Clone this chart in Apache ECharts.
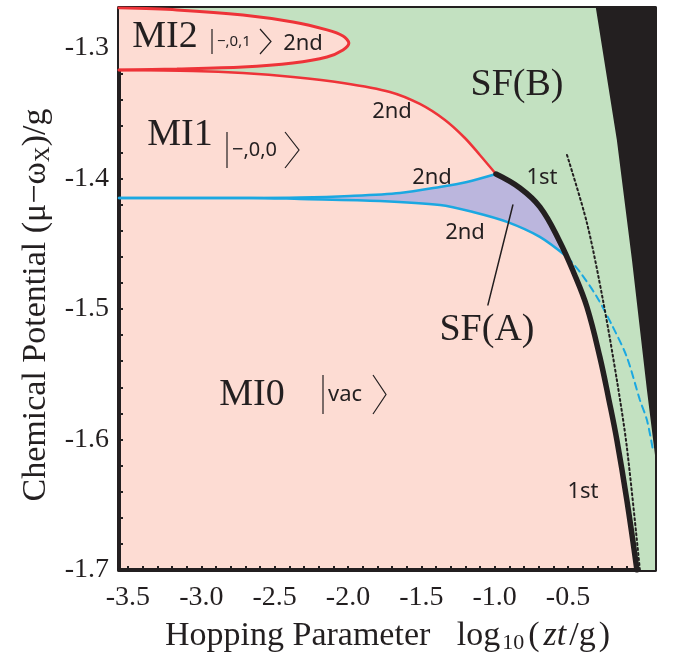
<!DOCTYPE html>
<html>
<head>
<meta charset="utf-8">
<script src="https://cdn.jsdelivr.net/npm/echarts@6/dist/echarts.min.js"></script>
<style>
  html, body { margin: 0; padding: 0; background: #ffffff; }
  #chart { width: 683px; height: 665px; }
</style>
</head>
<body>
<div id="chart"></div>
<script>
// Phase diagram: chemical potential vs. log10 hopping parameter

const xRange = [-3.561, 0.093];
const yRange = [-1.7, -1.2694];

const xLabels = [-3.5, -3.0, -2.5, -2.0, -1.5, -1.0, -0.5];
const yLabels = [-1.7, -1.6, -1.5, -1.4, -1.3];

// MI2 lobe (closed red boundary), upper branch then lower branch
const mi2Lobe = [
  [-3.561, -1.2693], [-3.166, -1.2709], [-2.716, -1.2747], [-2.375, -1.2801],
  [-2.143, -1.2862], [-2.034, -1.2908], [-1.994, -1.2962],
  [-2.034, -1.3015], [-2.143, -1.3069], [-2.375, -1.3115], [-2.716, -1.3146],
  [-3.166, -1.3161], [-3.561, -1.3169]
];

// Upper boundary of MI1 (2nd order)
const mi1Upper = [
  [-3.561, -1.3169], [-3.057, -1.3176], [-2.716, -1.3192], [-2.375, -1.3222],
  [-2.034, -1.3268], [-1.714, -1.3337], [-1.510, -1.3429], [-1.339, -1.3552],
  [-1.203, -1.3690], [-1.101, -1.3820], [-0.991, -1.3966]
];

// MI1 / SF(A) boundary (upper blue)
const blueUpper = [
  [-3.561, -1.4149], [-2.668, -1.4149], [-2.328, -1.4146], [-1.987, -1.4134],
  [-1.646, -1.4111], [-1.373, -1.4065], [-1.189, -1.4027], [-0.991, -1.3966]
];

// SF(A) / MI0 boundary (lower blue)
const blueLower = [
  [-3.561, -1.4149], [-2.668, -1.4149], [-2.328, -1.4157], [-1.782, -1.4172],
  [-1.373, -1.4203], [-1.148, -1.4257], [-0.916, -1.4333], [-0.692, -1.4448],
  [-0.505, -1.4602]
];

// Metastable continuation (dashed blue)
const blueDashed = [
  [-0.505, -1.4602], [-0.419, -1.4716], [-0.303, -1.4908], [-0.194, -1.5138],
  [-0.099, -1.5368], [-0.010, -1.5697], [0.038, -1.5851], [0.079, -1.6080]
];

// First-order transition line (thick black)
const firstOrder = [
  [-0.991, -1.3966], [-0.828, -1.4073], [-0.692, -1.4218], [-0.562, -1.4471],
  [-0.460, -1.4724], [-0.371, -1.4985], [-0.283, -1.5368], [-0.221, -1.5697],
  [-0.167, -1.6004], [-0.099, -1.6464], [-0.030, -1.7000]
];

// Dotted black reference line
const dottedLine = [
  [-0.507, -1.3820], [-0.371, -1.4341], [-0.262, -1.4931], [-0.167, -1.5544],
  [-0.099, -1.6057], [-0.010, -1.7000]
];

// Excluded region at large hopping (solid black)
const blackEdge = [
  [-0.310, -1.2694], [-0.167, -1.3705], [-0.064, -1.4625], [0.038, -1.5621],
  [0.093, -1.6119]
];

// Leader line for the SF(A) label
const sfaPointer = [[-0.876, -1.4203], [-1.046, -1.4969]];

const C = {
  pink: '#fddcd3', green: '#c3e1c1', lavender: '#bbb6dd',
  red: '#ee3338', blue: '#1ba8e1', ink: '#231f20'
};

// polygons assembled from the boundary arrays
const greenPoly = [[xRange[0], yRange[1]], [xRange[1], yRange[1]], [xRange[1], yRange[0]]]
  .concat(firstOrder.slice().reverse())
  .concat(mi1Upper.slice().reverse());
const lavenderPoly = blueUpper.slice(1)
  .concat(firstOrder.slice(1, 4))
  .concat([[-0.505, -1.4602]])
  .concat(blueLower.slice(1).reverse());
const blackPoly = blackEdge.concat([[xRange[1], yRange[1]]]);

function polygonSeries(points, color) {
  return {
    type: 'custom',
    silent: true,
    clip: true,
    data: points,
    renderItem: function (params, api) {
      if (params.dataIndex !== 0) return null;
      const pts = points.map(p => api.coord(p));
      return { type: 'polygon', shape: { points: pts, smooth: 0 }, style: { fill: color } };
    },
    z: 1
  };
}

function lineSeries(points, color, width, type, smooth) {
  return {
    type: 'line',
    data: points,
    showSymbol: false,
    silent: true,
    smooth: smooth,
    lineStyle: { color: color, width: width, type: type, cap: 'round' },
    z: 3
  };
}

const xTicks = [];
for (let v = -35; v <= 0; v++) xTicks.push(v / 10);
const yTicks = [];
for (let v = -85; v <= -64; v++) yTicks.push(v / 50);

const serif = 'Liberation Serif';
const sans = 'Noto Sans';
const TOP = 100;

function axisCommon(extra) {
  return Object.assign({
    type: 'value',
    axisLine: { show: true, onZero: false, lineStyle: { color: C.ink, width: 4 } },
    splitLine: { show: false }
  }, extra);
}

function ket(x0, yTop, yBot, txt, size) {
  const yc = (yTop + yBot) / 2;
  return [
    { type: 'line', z: TOP, shape: { x1: x0, y1: yTop, x2: x0, y2: yBot }, style: { stroke: C.ink, lineWidth: 1.2 } },
    { type: 'text', z: TOP, x: x0 + 5, y: yc, style: { text: txt, font: size + 'px "' + sans + '"', fill: C.ink, textVerticalAlign: 'middle' } }
  ];
}

function bracket(x, yTop, yBot, w) {
  const yc = (yTop + yBot) / 2;
  return { type: 'polyline', z: TOP, shape: { points: [[x, yTop], [x + w, yc], [x, yBot]] }, style: { stroke: C.ink, lineWidth: 1.2, fill: null } };
}

function label(x, y, text, font, size) {
  return { type: 'text', z: TOP, x: x, y: y, style: { text: text, font: size + 'px "' + font + '"', fill: C.ink, textAlign: 'center', textVerticalAlign: 'middle' } };
}

const tickStyle = { show: true, inside: true, length: 4, lineStyle: { color: C.ink, width: 2 } };
const titleSize = 34;
const subSize = 22;

const chart = echarts.init(document.getElementById('chart'));
chart.setOption({
  animation: false,
  backgroundColor: '#ffffff',
  grid: { left: 119, right: 28, top: 8, bottom: 95, show: true, backgroundColor: C.pink, borderWidth: 0 },
  xAxis: [
    axisCommon({
      position: 'bottom', min: xRange[0], max: xRange[1],
      axisTick: Object.assign({ customValues: xTicks }, tickStyle),
      axisLabel: { customValues: xLabels, formatter: v => v.toFixed(1), fontFamily: serif, fontSize: 28, color: C.ink, margin: 14 }
    }),
    axisCommon({
      position: 'top', min: xRange[0], max: xRange[1],
      axisTick: Object.assign({ customValues: xTicks }, tickStyle),
      axisLabel: { show: false }
    })
  ],
  yAxis: [
    axisCommon({
      position: 'left', min: yRange[0], max: yRange[1],
      axisTick: Object.assign({ customValues: yTicks }, tickStyle),
      axisLabel: { customValues: yLabels, formatter: v => v.toFixed(1), fontFamily: serif, fontSize: 28, color: C.ink, margin: 10 }
    }),
    axisCommon({
      position: 'right', min: yRange[0], max: yRange[1],
      axisTick: Object.assign({ customValues: yTicks }, tickStyle),
      axisLabel: { show: false }
    })
  ],
  series: [
    polygonSeries(greenPoly, C.green),
    polygonSeries(mi2Lobe, C.pink),
    polygonSeries(lavenderPoly, C.lavender),
    polygonSeries(blackPoly, C.ink),
    lineSeries(mi2Lobe, C.red, 3, 'solid', 0.3),
    lineSeries(mi1Upper, C.red, 2.5, 'solid', 0.3),
    lineSeries(blueUpper, C.blue, 2.5, 'solid', 0.3),
    lineSeries(blueLower, C.blue, 2.5, 'solid', 0.3),
    lineSeries(blueDashed, C.blue, 2, [7, 5], 0.3),
    lineSeries(dottedLine, C.ink, 2, [2, 3], 0.3),
    lineSeries(firstOrder, C.ink, 5.5, 'solid', 0.4),
    lineSeries(sfaPointer, C.ink, 1.5, 'solid', false)
  ],
  graphic: [].concat(
    label(165, 37, 'MI2', serif, 38),
    ket(212, 29, 54, '\u2212,0,1', 15), bracket(260, 29, 54, 11),
    label(303, 44, '2nd', sans, 22),
    label(180, 135, 'MI1', serif, 38),
    ket(227, 132, 168, '\u2212,0,0', 20), bracket(285, 132, 168, 14),
    label(517, 85, 'SF(B)', serif, 38),
    label(392, 112, '2nd', sans, 22),
    label(432, 178, '2nd', sans, 22),
    label(465, 233, '2nd', sans, 22),
    label(542, 178, '1st', sans, 22),
    label(487, 330, 'SF(A)', serif, 38),
    label(252, 395, 'MI0', serif, 38),
    ket(323, 375, 414, 'vac', 22), bracket(373, 375, 414, 13),
    label(583, 492, '1st', sans, 22),
    {
      type: 'text', x: 165, y: 636, z: TOP,
      style: {
        text: 'Hopping Parameter   {t|log}{s|10}{p|(}{i|zt}{t|/g}{p|)}',
        font: titleSize + 'px "' + serif + '"', fill: C.ink, textAlign: 'left', textVerticalAlign: 'middle',
        rich: {
          t: { fontFamily: serif, fontSize: titleSize, padding: [0, 1, 0, 1] },
          s: { fontFamily: serif, fontSize: subSize, verticalAlign: 'bottom', padding: [14, 2, 0, 1] },
          p: { fontFamily: serif, fontSize: titleSize, padding: [0, 2, 0, 2] },
          i: { fontFamily: serif, fontSize: titleSize, fontStyle: 'italic', padding: [0, 2, 0, 2] }
        }
      }
    },
    {
      type: 'text', x: 36, y: 305, rotation: Math.PI / 2, z: TOP,
      style: {
        text: 'Chemical Potential (\u03bc\u2212\u03c9{s|X})/g',
        font: titleSize + 'px "' + serif + '"', fill: C.ink, textAlign: 'center', textVerticalAlign: 'middle',
        rich: { s: { fontFamily: serif, fontSize: subSize, verticalAlign: 'bottom', padding: [14, 0, 0, 0] } }
      }
    }
  )
});
</script>
</body>
</html>
